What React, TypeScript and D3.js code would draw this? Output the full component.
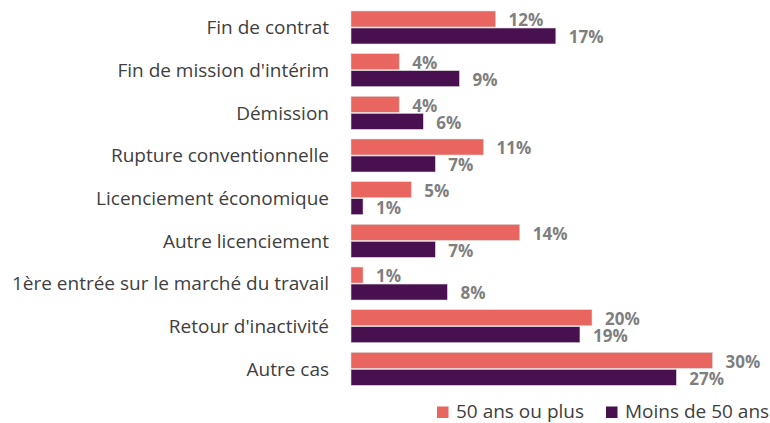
import React from "react";
import * as d3 from "d3";

const categories = [
  "Fin de contrat",
  "Fin de mission d'intérim",
  "Démission",
  "Rupture conventionnelle",
  "Licenciement économique",
  "Autre licenciement",
  "1ère entrée sur le marché du travail",
  "Retour d'inactivité",
  "Autre cas",
];
const seriesNames = ["50 ans ou plus", "Moins de 50 ans"];
const over50 = [12, 4, 4, 11, 5, 14, 1, 20, 30];
const under50 = [17, 9, 6, 7, 1, 7, 8, 19, 27];
const colors = ["#E8665F", "#48104F"];

const W = 770;
const H = 423;
const FONT = "'Open Sans', sans-serif";

export default function App() {
  const x = d3.scaleLinear().domain([0, 30]).range([351, 712.5]);
  const y = d3
    .scaleBand<string>()
    .domain(categories)
    .range([11, 11 + 8 * 42.67 + 33])
    .paddingInner(0.227)
    .paddingOuter(0);
  const ys = d3
    .scaleBand<string>()
    .domain(seriesNames)
    .range([0, y.bandwidth()])
    .paddingInner(0.06);
  const data = [over50, under50];

  return (
    <svg
      width={W}
      height={H}
      style={{ position: "absolute", left: 0, top: 0, background: "#fff" }}
      fontFamily={FONT}
    >
      {categories.map((c) => (
        <text
          key={c}
          x={329}
          y={(y(c) as number) + y.bandwidth() / 2}
          dy="0.36em"
          textAnchor="end"
          fontSize={19}
          fill="#404040"
        >
          {c}
        </text>
      ))}
      {seriesNames.map((s, si) =>
        categories.map((c, ci) => {
          const v = data[si][ci];
          const y0 = (y(c) as number) + (ys(s) as number);
          return (
            <g key={s + c}>
              <rect
                x={x(0)}
                y={y0}
                width={x(v) - x(0)}
                height={ys.bandwidth()}
                fill={colors[si]}
                stroke="#d9d9d9"
                strokeWidth={0.6}
              />
              <text
                x={x(v) + 13}
                y={y0 + ys.bandwidth() / 2 + 1.2}
                dy="0.36em"
                fontSize={17}
                fontWeight="bold"
                fill="#7F7F7F"
              >
                {v}%
              </text>
            </g>
          );
        })
      )}
      {seriesNames.map((s, si) => {
        const lx = [437, 606][si];
        return (
          <g key={s}>
            <rect x={lx} y={406.5} width={11.5} height={11.5} fill={colors[si]} />
            <text x={lx + 19} y={418} fontSize={19} fill="#404040">
              {s}
            </text>
          </g>
        );
      })}
    </svg>
  );
}
